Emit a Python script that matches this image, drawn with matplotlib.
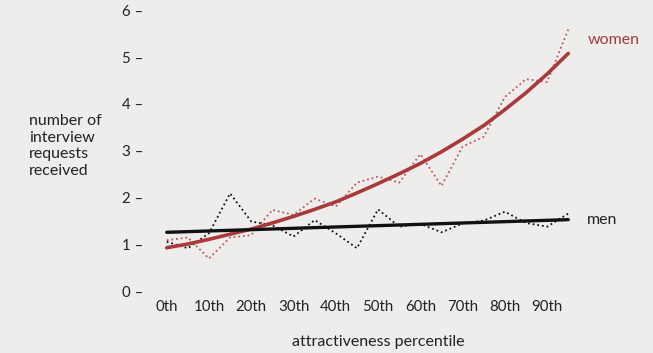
import matplotlib
matplotlib.use("Agg")
import matplotlib.pyplot as plt
import numpy as np

plt.rcParams['font.family'] = ['Lato', 'DejaVu Sans']

# data (percentile, requests)
percentiles = [0, 5, 10, 15, 20, 25, 30, 35, 40, 45, 50, 55, 60, 65, 70, 75, 80, 85, 90, 95]
women = [1.12, 1.18, 0.73, 1.18, 1.23, 1.77, 1.66, 2.01, 1.84, 2.35, 2.48, 2.35, 2.96, 2.28,
         3.12, 3.33, 4.18, 4.56, 4.50, 5.62]
men = [1.09, 0.95, 1.27, 2.12, 1.52, 1.44, 1.20, 1.55, 1.27, 0.95, 1.78, 1.41, 1.47, 1.29,
       1.48, 1.54, 1.73, 1.49, 1.41, 1.69]
women_trend = [0.96, 1.04, 1.14, 1.25, 1.36, 1.49, 1.63, 1.78, 1.94, 2.13, 2.33, 2.54, 2.76,
               3.01, 3.28, 3.57, 3.91, 4.27, 4.67, 5.11]
men_trend_x = [0, 95]
men_trend = [1.29, 1.56]

xtick_vals = [0, 10, 20, 30, 40, 50, 60, 70, 80, 90]
xtick_labels = ["0th", "10th", "20th", "30th", "40th", "50th", "60th", "70th", "80th", "90th"]
ytick_vals = [0, 1, 2, 3, 4, 5, 6]

BG = "#efedeb"
RED = "#a83a3a"
TXT = "#222222"

fig = plt.figure(figsize=(6.53, 3.53), dpi=100, facecolor=BG)
ax = fig.add_axes([0, 0, 1, 1], facecolor=BG)
ax.set_xlim(-39.44, 115.04)
ax.set_ylim(-1.287, 6.250)
ax.axis('off')

ax.plot(percentiles, women, color="#b85a5a", lw=1.3, ls=(0, (1, 1.6)))
ax.plot(percentiles, men, color="#111111", lw=1.3, ls=(0, (1, 1.6)))
ax.plot(percentiles, women_trend, color=RED, lw=2.6, solid_capstyle='round')
ax.plot(men_trend_x, men_trend, color="#111111", lw=2.4, solid_capstyle='round')

for v in ytick_vals:
    ax.text(-5.6, v, f"{v} \u2013", ha='right', va='center', fontsize=10.8, color=TXT)
for v, l in zip(xtick_vals, xtick_labels):
    ax.text(v, -0.31, l, ha='center', va='center', fontsize=10.8, color=TXT)

ax.text(-32.5, 3.13, "number of\ninterview\nrequests\nreceived", ha='left', va='center',
        fontsize=11.5, color=TXT, linespacing=1.22)
ax.text(50, -1.06, "attractiveness percentile", ha='center', va='center', fontsize=11.5, color=TXT)
ax.text(99.5, 5.4, "women", ha='left', va='center', fontsize=11.5, color=RED)
ax.text(99.5, 1.56, "men", ha='left', va='center', fontsize=11.5, color=TXT)

fig.savefig("out.png", dpi=100, facecolor=BG)
